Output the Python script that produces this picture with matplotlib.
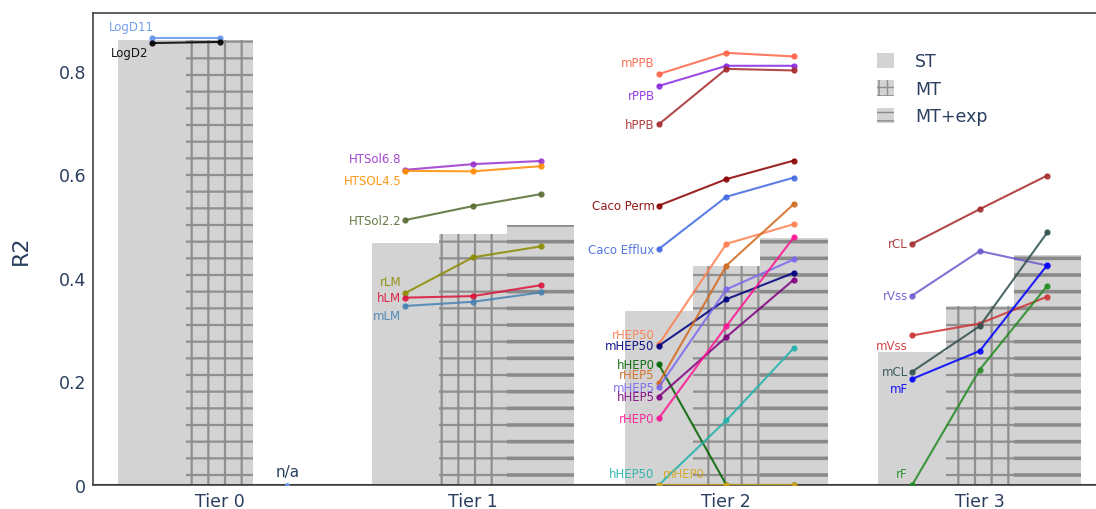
import numpy as np
import matplotlib
matplotlib.use("Agg")
import matplotlib.pyplot as plt
from matplotlib.patches import Patch

# bar heights per tier: ST, MT, MT+exp
tiers = ["Tier 0", "Tier 1", "Tier 2", "Tier 3"]
st_r2 = [0.860, 0.468, 0.336, 0.257]
mt_r2 = [0.860, 0.485, 0.423, 0.346]
mtexp_r2 = [0.0, 0.502, 0.477, 0.444]   # tier 0 has no MT+exp model

# per-endpoint R2 for ST, MT, MT+exp
tier0_names = ["LogD11", "LogD2"]
tier0_vals = [[0.864, 0.864, np.nan],
              [0.854, 0.856, np.nan]]

tier1_names = ["HTSol6.8", "HTSOL4.5", "HTSol2.2", "rLM", "hLM", "mLM"]
tier1_vals = [[0.609, 0.620, 0.626],
              [0.607, 0.606, 0.616],
              [0.512, 0.539, 0.562],
              [0.371, 0.440, 0.461],
              [0.362, 0.365, 0.386],
              [0.346, 0.354, 0.372]]

tier2_names = ["mPPB", "rPPB", "hPPB", "Caco Perm", "Caco Efflux", "rHEP50",
               "mHEP50", "hHEP0", "rHEP5", "mHEP5", "hHEP5", "rHEP0",
               "hHEP50", "mHEP0"]
tier2_vals = [[0.794, 0.835, 0.828],
              [0.771, 0.810, 0.810],
              [0.697, 0.804, 0.801],
              [0.540, 0.591, 0.627],
              [0.456, 0.557, 0.594],
              [0.272, 0.466, 0.504],
              [0.269, 0.359, 0.410],
              [0.233, 0.0, 0.0],
              [0.197, 0.424, 0.543],
              [0.189, 0.378, 0.436],
              [0.171, 0.286, 0.397],
              [0.129, 0.307, 0.479],
              [0.0, 0.125, 0.265],
              [0.0, 0.0, 0.0]]

tier3_names = ["rCL", "rVss", "mVss", "mCL", "mF", "rF"]
tier3_vals = [[0.466, 0.533, 0.598],
              [0.366, 0.452, 0.424],
              [0.289, 0.312, 0.364],
              [0.219, 0.307, 0.488],
              [0.205, 0.259, 0.425],
              [0.0, 0.223, 0.385]]

colors = {
    "LogD11": "#6495ED", "LogD2": "#000000",
    "HTSol6.8": "#9932CC", "HTSOL4.5": "#FF8C00", "HTSol2.2": "#556B2F",
    "rLM": "#8B8B00", "hLM": "#DC143C", "mLM": "#4682B4",
    "mPPB": "#FF6347", "rPPB": "#8A2BE2", "hPPB": "#A52A2A",
    "Caco Perm": "#8B0000", "Caco Efflux": "#4169E1",
    "rHEP50": "#FF7F50", "mHEP50": "#000080", "hHEP0": "#006400",
    "rHEP5": "#D2691E", "mHEP5": "#7B68EE", "hHEP5": "#800080",
    "rHEP0": "#FF1493", "hHEP50": "#20B2AA", "mHEP0": "#DAA520",
    "rCL": "#A52A2A", "rVss": "#6A5ACD", "mVss": "#CD3333",
    "mCL": "#2F4F4F", "mF": "#0000FF", "rF": "#228B22",
}

# label nudges in points (dx, dy, alignment)
label_pos = {
    "LogD11": (1, 8, "right"), "LogD2": (-3, -7, "right"),
    "HTSol6.8": (-3, 8, "right"), "HTSOL4.5": (-3, -7, "right"),
    "rLM": (-3, 8, "right"), "mLM": (-3, -7, "right"),
    "mPPB": (-3, 8, "right"), "rPPB": (-3, -7, "right"),
    "rHEP50": (-3, 7, "right"), "rHEP5": (-3, 6, "right"),
    "hHEP50": (-3, 8, "right"), "mHEP0": (3, 8, "left"),
    "mVss": (-3, -7, "right"), "mF": (-3, -7, "right"),
    "rF": (-3, 8, "right"),
}

txt = "#2a3f5f"
width = 0.8 / 3
offsets = [-width, 0, width]

fig = plt.figure(figsize=(10.96, 5.10), dpi=100)
ax = fig.add_axes([93 / 1096, 24 / 510, 1013.4 / 1096, 472 / 510])

x = np.arange(len(tiers))
b1 = ax.bar(x + offsets[0], st_r2, width, color="#d3d3d3", linewidth=0, zorder=1)
b2 = ax.bar(x + offsets[1], mt_r2, width, color="#d3d3d3", edgecolor="#8f8f8f",
            linewidth=0, hatch="+", zorder=1)
b3 = ax.bar(x + offsets[2], mtexp_r2, width, color="#d3d3d3", edgecolor="#8a8a8a",
            linewidth=0, hatch="-", zorder=1)
for bars, hw in ((b2, 1.6), (b3, 2.6)):
    for p in bars:
        if hasattr(p, "set_hatch_linewidth"):
            p.set_hatch_linewidth(hw)

ax.axhline(0, color="#222222", lw=2.2, zorder=2)

groups = [(tier0_names, tier0_vals), (tier1_names, tier1_vals),
          (tier2_names, tier2_vals), (tier3_names, tier3_vals)]
for gi, (names, vals) in enumerate(groups):
    xs = gi + np.array(offsets)
    for name, v in zip(names, vals):
        c = colors[name]
        ax.plot(xs, v, color=c, lw=1.5, marker="o", ms=3.5, alpha=0.85, zorder=3)
        dx, dy, ha = label_pos.get(name, (-3, 0, "right"))
        ax.annotate(name, (xs[0], v[0]), xytext=(dx, dy), textcoords="offset points",
                    ha=ha, va="center", fontsize=8.5, color=c, alpha=0.9, zorder=4)

# tier 0 has no MT+exp result
na_x = x[0] + offsets[2]
ax.plot([na_x], [mtexp_r2[0]], "o", color="#6495ED", ms=2.5, zorder=3)
ax.annotate("n/a", (na_x, mtexp_r2[0]), xytext=(0, 10), textcoords="offset points",
            ha="center", va="center", fontsize=11, color=txt)

ax.set_xlim(-0.5, 3.5)
ax.set_ylim(0, 0.912)
ax.set_xticks(x)
ax.set_xticklabels(tiers, fontsize=12.5, color=txt)
ax.set_yticks([0, 0.2, 0.4, 0.6, 0.8])
ax.set_yticklabels(["0", "0.2", "0.4", "0.6", "0.8"], fontsize=12.5, color=txt)
ax.tick_params(length=0, pad=5)
ax.set_ylabel("R2", fontsize=16, color=txt, labelpad=20)
for s in ax.spines.values():
    s.set_color("#444444")
    s.set_linewidth(1.2)

handles = [Patch(facecolor="#d3d3d3", linewidth=0),
           Patch(facecolor="#d3d3d3", edgecolor="#8f8f8f", linewidth=0, hatch="++"),
           Patch(facecolor="#d3d3d3", edgecolor="#8a8a8a", linewidth=0, hatch="--")]
leg = ax.legend(handles, ["ST", "MT", "MT+exp"], loc="upper left",
                bbox_to_anchor=(0.758, 0.95), frameon=False, fontsize=12.5,
                handlelength=1.0, handleheight=1.0, labelspacing=0.55,
                handletextpad=1.2, labelcolor=txt)

fig.savefig("out.png", dpi=100)
